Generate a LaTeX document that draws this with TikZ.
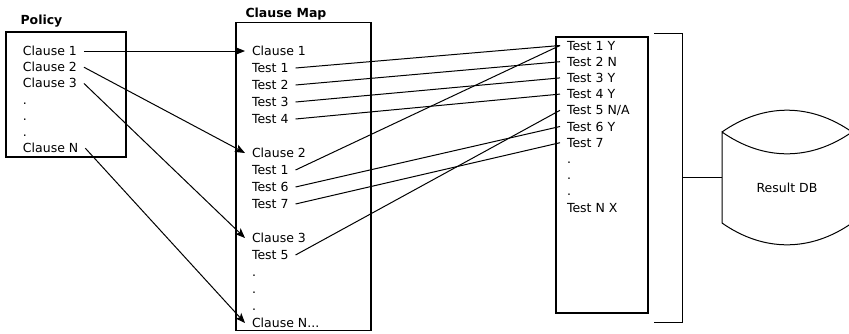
\documentclass[tikz,border=0pt]{standalone}
\usepackage{fontspec}
\setmainfont{DejaVu Sans}
\usepackage{tikz}
\usetikzlibrary{positioning,arrows.meta}
\tikzset{>={Stealth[length=10pt,width=8pt,inset=2.5pt]}}

\begin{document}
\begin{tikzpicture}[
  x=1pt, y=-1pt,
  line width=1pt
]

% Styles.
\tikzset{
  entry/.style={anchor=base west, inner xsep=4pt, inner ysep=2pt, outer sep=3pt,
                text height=9pt, text depth=0pt, font=\fontsize{12.5}{15}\selectfont},
  heading/.style={anchor=base west, inner sep=0pt, font=\fontsize{12.5}{15}\selectfont\bfseries},
  panel/.style={draw, line width=1.3pt, inner sep=0pt}
}

\useasboundingbox (0,0) rectangle (849,333);

% Boxes.
\node (policy)  [panel, minimum width=120pt, minimum height=125pt] at (66,94.5) {};
\node (cmap)    [panel, minimum width=135pt, minimum height=308pt] at (303.5,176.5) {};
\node (results) [panel, minimum width=92pt,  minimum height=276pt] at (602,175) {};

% Headings.
\node (policyhead) [heading] at (20,24) {Policy};
\node (cmaphead)   [heading] at (245,17) {Clause Map};

% Policy lines.
\foreach \n/\k/\t in {pc1/0/{Clause 1}, pc2/1/{Clause 2}, pc3/2/{Clause 3},
                      pd1/3/{.}, pd2/4/{.}, pd3/5/{.}, pcn/6/{Clause N}}{
  \node (\n) [entry] at (16,55.5+16.2*\k) {\t};
}

% Clause map lines.
\foreach \n/\k/\t in {cm1/0/{Clause 1}, ct11/1/{Test 1}, ct12/2/{Test 2}, ct13/3/{Test 3}, ct14/4/{Test 4},
                      cm2/6/{Clause 2}, ct21/7/{Test 1}, ct26/8/{Test 6}, ct27/9/{Test 7},
                      cm3/11/{Clause 3}, ct35/12/{Test 5},
                      cd1/13/{.}, cd2/14/{.}, cd3/15/{.}, cmn/16/{Clause N...}}{
  \node (\n) [entry] at (245,55.5+17*\k) {\t};
}

% Result lines.
\foreach \n/\k/\t in {r1/0/{Test 1 Y}, r2/1/{Test 2 N}, r3/2/{Test 3 Y}, r4/3/{Test 4 Y},
                      r5/4/{Test 5 N/A}, r6/5/{Test 6 Y}, r7/6/{Test 7},
                      rd1/7/{.}, rd2/8/{.}, rd3/9/{.}, rn/10/{Test N X}}{
  \node (\n) [entry] at (560,50+16.2*\k) {\t};
}

% Arrows policy to clause map.
\foreach \a/\b in {pc1/cm1, pc2/cm2, pc3/cm3, pcn/cmn}{
  \draw[->] (\a.east) -- (\b.west);
}

% Lines clause map to results.
\foreach \a/\b in {ct11/r1, ct12/r2, ct13/r3, ct14/r4,
                   ct21/r1, ct26/r6, ct27/r7, ct35/r5}{
  \draw (\a.east) -- (\b.west);
}

% Database.
\node (db) [inner sep=0pt, outer sep=0pt, minimum width=130pt,
            font=\fontsize{12.5}{15}\selectfont] at (787,188) {Result DB};
\begin{scope}
  \clip (0,0) rectangle (849,333);
  \draw (722,132) to[bend left=35] (852,132) to[bend left=35] (722,132)
        -- (722,223) to[bend right=35] (852,223) -- (852,132);
\end{scope}

% Bracket round the results.
\coordinate (brtop) at (654,33);
\coordinate (brbot) at (654,322);
\coordinate (brk)   at (682,177);
\draw (brtop) -- (brtop -| brk) -- (brbot -| brk) -- (brbot);
\draw (brk) -- (brk -| db.west);
\end{tikzpicture}
\end{document}
